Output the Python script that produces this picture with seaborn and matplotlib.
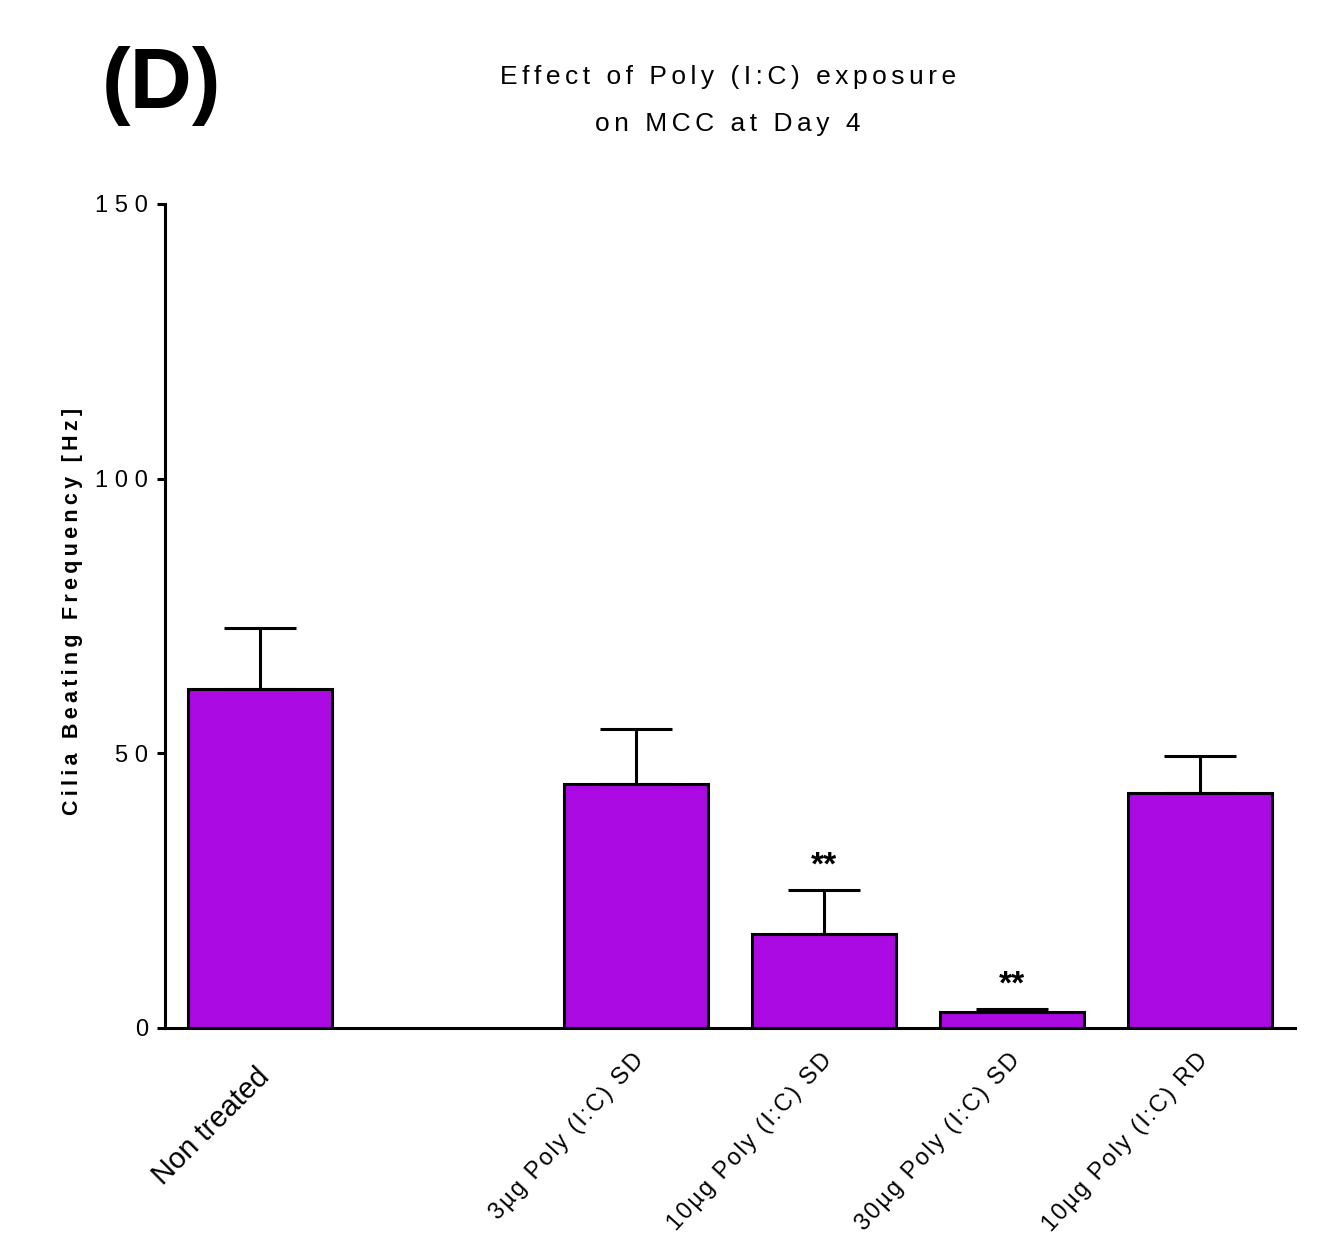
import numpy as np
import pandas as pd
import matplotlib
matplotlib.use("Agg")
import matplotlib.pyplot as plt
from matplotlib.transforms import ScaledTranslation
import seaborn as sns

# Treatment groups (one empty slot between the control and the treated groups)
slot_order = ["Non treated", "_gap_", "3µg Poly (I:C) SD", "10µg Poly (I:C) SD",
              "30µg Poly (I:C) SD", "10µg Poly (I:C) RD"]
groups = ["Non treated", "3µg Poly (I:C) SD", "10µg Poly (I:C) SD",
          "30µg Poly (I:C) SD", "10µg Poly (I:C) RD"]
mean_cbf = [61.8, 44.5, 17.1, 3.0, 42.8]   # Hz
sd_cbf = [11.0, 9.9, 8.0, 0.5, 6.8]        # Hz, upper error only
stars = ["", "", "**", "**", ""]
yticks = [0, 50, 100, 150]

BAR_COLOR = "#AB0BE2"
HAIR = "\u200a"
THIN = "\u2009"


def spaced(s, gap=HAIR):
    """Letter-spaced text, mimicking the tracking of the original software."""
    return gap.join(s)


sns.set_theme(style="ticks")
plt.rcParams["font.family"] = ["Liberation Sans", "DejaVu Sans"]
for key in ["text.color", "axes.labelcolor", "xtick.color", "ytick.color",
            "axes.edgecolor"]:
    plt.rcParams[key] = "black"

W, H = 1325, 1252
fig = plt.figure(figsize=(W / 100, H / 100), dpi=100)
ax = fig.add_axes([165 / W, 1 - 1028 / H, 1130 / W, 824 / H])

df = pd.DataFrame({"group": groups, "cbf": mean_cbf})
sns.barplot(data=df, x="group", y="cbf", order=slot_order, color=BAR_COLOR,
            saturation=1, width=0.766, edgecolor="black", linewidth=2.2,
            errorbar=None, ax=ax, zorder=2)

xpos = np.array([slot_order.index(g) for g in groups])
ax.errorbar(xpos, mean_cbf, yerr=[np.zeros(len(sd_cbf)), sd_cbf], fmt="none",
            ecolor="black", elinewidth=2.2, capsize=26, capthick=2.2, zorder=3)

for x, m, s, st in zip(xpos, mean_cbf, sd_cbf, stars):
    if st:
        ax.annotate(st, xy=(x, m + s), xytext=(0, 6), textcoords="offset points",
                    ha="center", va="bottom", fontsize=24, fontweight="bold",
                    color="black")

ax.set_xlim(-0.505, len(slot_order) - 0.495)
ax.set_ylim(0, 150)
ax.set_yticks(yticks)
ax.set_yticklabels([spaced(str(v), THIN + HAIR) for v in yticks], fontsize=17)
ax.tick_params(axis="y", length=6, width=2.2, pad=6, color="black")
ax.tick_params(axis="x", length=0, pad=2)

for side in ["top", "right"]:
    ax.spines[side].set_visible(False)
for side in ["left", "bottom"]:
    ax.spines[side].set_linewidth(2.2)
    ax.spines[side].set_color("black")

xlabels = []
for g in slot_order:
    if g == "_gap_":
        xlabels.append("")
    elif g == "Non treated":
        xlabels.append(g)
    else:
        xlabels.append(spaced(g, HAIR))
ax.set_xticks(range(len(slot_order)))
ax.set_xticklabels(xlabels)
for lab, g in zip(ax.get_xticklabels(), slot_order):
    lab.set_rotation_mode("anchor")
    lab.set_ha("right")
    lab.set_va("center")
    if g == "Non treated":
        lab.set_rotation(45)
        lab.set_fontsize(21)
        shift = ScaledTranslation(0.05, -0.42, fig.dpi_scale_trans)
    else:
        lab.set_rotation(47.5)
        lab.set_fontsize(17)
        shift = ScaledTranslation(0.04, -0.26, fig.dpi_scale_trans)
    lab.set_transform(lab.get_transform() + shift)

ax.set_xlabel("")
ax.set_ylabel(spaced("Cilia Beating Frequency [Hz]", THIN), fontsize=15.5,
              fontweight="bold")
ax.yaxis.set_label_coords(-0.073, 0.505)

fig.text(728 / W, 1 - 77 / H, spaced("Effect of Poly (I:C) exposure", HAIR * 2),
         ha="center", va="center", fontsize=19)
fig.text(728 / W, 1 - 124 / H, spaced("on MCC at Day 4", HAIR * 2),
         ha="center", va="center", fontsize=19)
fig.text(162 / W, 1 - 86 / H, "(D)", ha="center", va="center",
         fontsize=62, fontweight="bold")

fig.savefig("out.png", dpi=100, facecolor="white")
